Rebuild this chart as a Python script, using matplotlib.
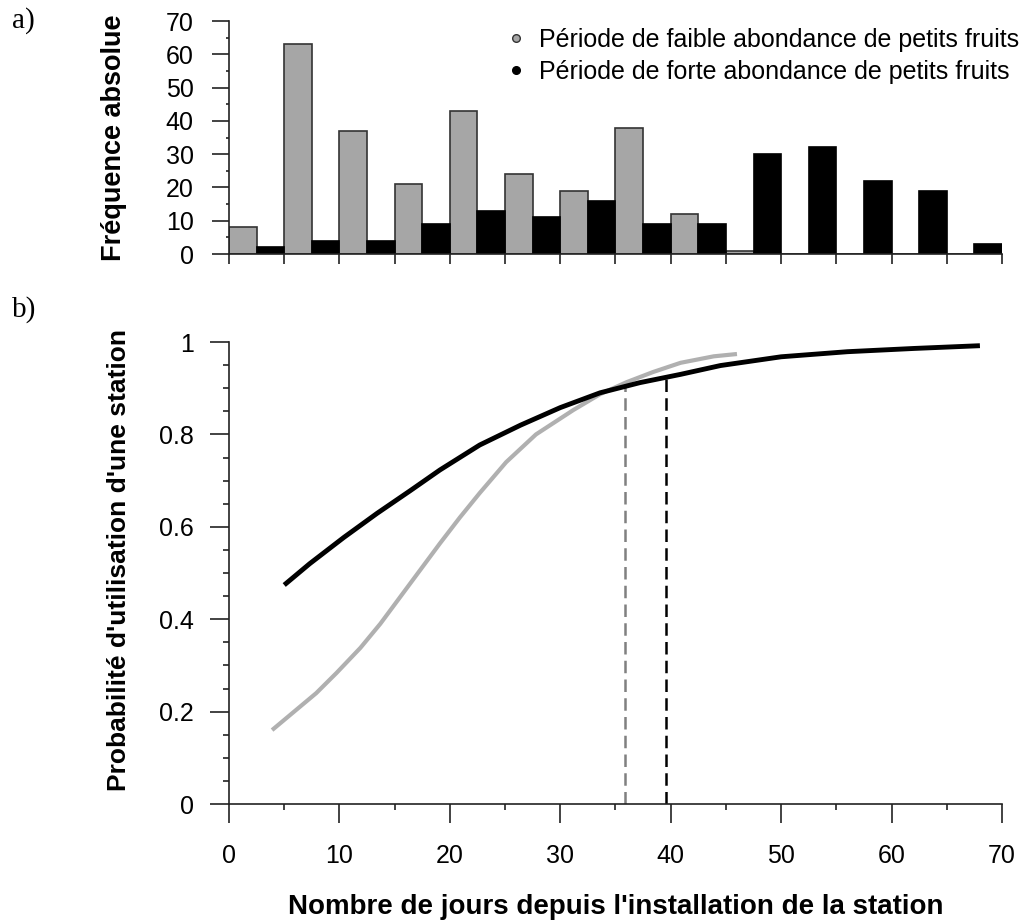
import numpy as np
import matplotlib.pyplot as plt
from matplotlib.lines import Line2D
from matplotlib.ticker import MultipleLocator

plt.rcParams['font.family'] = ['Liberation Sans', 'DejaVu Sans']

# --- a) histogram data (bins of 5 days) ---
bin_left = [0, 5, 10, 15, 20, 25, 30, 35, 40, 45, 50, 55, 60, 65]
freq_low = [8, 63, 37, 21, 43, 24, 19, 38, 12, 1, 0, 0, 0, 0]
freq_high = [2, 4, 4, 9, 13, 11, 16, 9, 9, 30, 32, 22, 19, 3]
labels = ["Période de faible abondance de petits fruits",
          "Période de forte abondance de petits fruits"]

# --- b) fitted probability curves ---
days_low = [3.9, 5.8, 7.9, 9.75, 11.9, 13.7, 15.5, 17.3, 19.1, 20.9, 22.7, 25.1, 27.8,
            31.2, 33.6, 36, 38.4, 40.9, 43.9, 46]
prob_low = [0.160, 0.198, 0.240, 0.284, 0.338, 0.390, 0.448, 0.506, 0.564, 0.620, 0.673,
            0.740, 0.800, 0.853, 0.887, 0.913, 0.935, 0.955, 0.969, 0.974]
days_high = [5, 7.3, 10.4, 13.4, 16.4, 19.1, 22.7, 26.4, 30, 33.6, 37.2, 40.9, 44.5,
             50, 56, 62, 68]
prob_high = [0.474, 0.520, 0.577, 0.629, 0.678, 0.723, 0.777, 0.820, 0.858, 0.890, 0.912,
             0.930, 0.949, 0.968, 0.979, 0.986, 0.992]
threshold_days = [35.9, 39.6]
threshold_prob = [0.903, 0.922]

gray_fill = '#a6a6a6'
axis_col = '#222222'

fig = plt.figure(figsize=(10.2, 9.24), dpi=100)
ax1 = fig.add_axes([229 / 1020, 1 - 254 / 924, 773 / 1020, 233 / 924])
ax2 = fig.add_axes([229 / 1020, 1 - 804 / 924, 773 / 1020, 462 / 924])

# panel a
ax1.bar(bin_left, freq_low, width=2.5, align='edge', color=gray_fill,
        edgecolor='#333333', linewidth=1.2, zorder=2)
ax1.bar(np.array(bin_left) + 2.5, freq_high, width=2.5, align='edge', color='black',
        edgecolor='black', linewidth=1.2, zorder=2)
ax1.set_xlim(0, 70)
ax1.set_ylim(0, 70)
ax1.set_xticks(np.arange(0, 71, 5))
ax1.set_xticklabels([])
ax1.yaxis.set_major_locator(MultipleLocator(10))
ax1.yaxis.set_minor_locator(MultipleLocator(5))
ax1.tick_params(axis='x', length=7.5, width=1.2, color=axis_col, direction='out')
ax1.tick_params(axis='y', which='major', length=12.5, width=1.2, color=axis_col,
                labelsize=18, pad=13)
ax1.tick_params(axis='y', which='minor', length=2, width=1.2, color=axis_col)
ax1.set_ylabel("Fréquence absolue", fontsize=19.5, fontweight='bold')
ax1.yaxis.set_label_coords(-0.132, 0.5)

handles = [Line2D([], [], marker='o', linestyle='none', markersize=5.5,
                  markerfacecolor=gray_fill, markeredgecolor='#333333'),
           Line2D([], [], marker='o', linestyle='none', markersize=5.5,
                  markerfacecolor='black', markeredgecolor='black')]
ax1.legend(handles, labels, loc='upper right', bbox_to_anchor=(1019 / 1020, 1 - 28 / 924),
           bbox_transform=fig.transFigure, frameon=False, fontsize=18,
           handlelength=1.0, handletextpad=0.4, labelspacing=0.3, borderpad=0,
           borderaxespad=0)

# panel b
ax2.plot(days_low, prob_low, color='#b0b0b0', linewidth=3, solid_capstyle='butt',
         solid_joinstyle='round', zorder=3)
ax2.plot(days_high, prob_high, color='black', linewidth=3.5, solid_capstyle='butt',
         solid_joinstyle='round', zorder=4)
ax2.plot([threshold_days[0]] * 2, [0, threshold_prob[0]], color='#808080', linewidth=1.8,
         dashes=(5, 2.5), zorder=2)
ax2.plot([threshold_days[1]] * 2, [0, threshold_prob[1]], color='black', linewidth=1.8,
         dashes=(5, 2.5), zorder=2)
ax2.set_xlim(0, 70)
ax2.set_ylim(0, 1)
ax2.xaxis.set_major_locator(MultipleLocator(10))
ax2.xaxis.set_minor_locator(MultipleLocator(5))
ax2.yaxis.set_minor_locator(MultipleLocator(0.05))
ax2.set_yticks([0, 0.2, 0.4, 0.6, 0.8, 1])
ax2.set_yticklabels(['0', '0.2', '0.4', '0.6', '0.8', '1'])
ax2.tick_params(which='major', length=13.5, width=1.2, color=axis_col, labelsize=18)
ax2.tick_params(which='minor', length=4.5, width=1.2, color=axis_col)
ax2.tick_params(axis='y', which='major', pad=12)
ax2.tick_params(axis='x', which='major', pad=15)
ax2.set_ylabel("Probabilité d'utilisation d'une station", fontsize=19, fontweight='bold')
ax2.yaxis.set_label_coords(-0.127, 0.528)
ax2.set_xlabel("Nombre de jours depuis l'installation de la station", fontsize=20,
               fontweight='bold')
ax2.xaxis.set_label_coords(0.5, -0.195)

for ax in (ax1, ax2):
    ax.spines['top'].set_visible(False)
    ax.spines['right'].set_visible(False)
    ax.spines['left'].set_color(axis_col)
    ax.spines['bottom'].set_color(axis_col)
    ax.spines['left'].set_linewidth(1.2)
    ax.spines['bottom'].set_linewidth(1.2)

fig.text(12 / 1020, 1 - 7 / 924, "a)", family='Liberation Serif', fontsize=21, va='top')
fig.text(12 / 1020, 1 - 296 / 924, "b)", family='Liberation Serif', fontsize=21, va='top')

fig.savefig('out.png', dpi=100)
